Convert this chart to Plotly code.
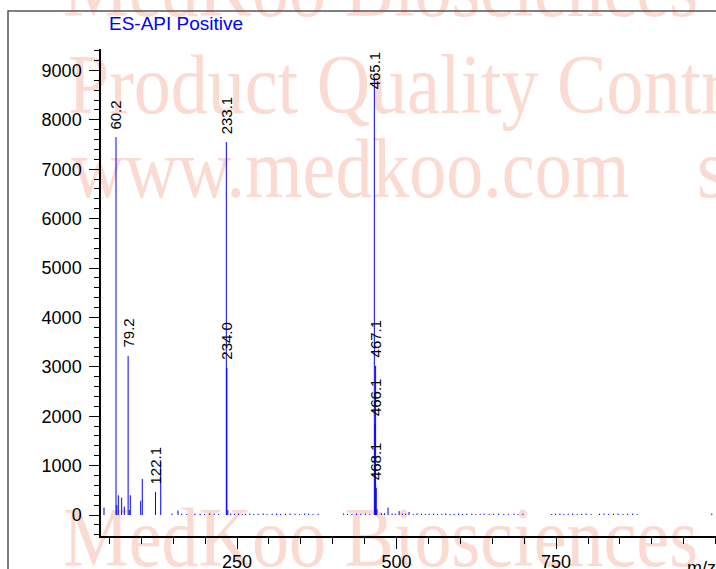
import json
import plotly.graph_objects as go

# ---------------- data ----------------
peak_mz = [41.4, 60.2, 61.5, 63.8, 69.1, 73.2, 79.2, 81.0, 82.6, 98.9, 101.4,
           122.1, 130.3, 157.4, 233.1, 234.0, 235.5, 465.1, 466.1, 467.1, 468.1,
           469.2, 486.6, 504.0, 519.5, 994.0]
peak_int = [150, 7650, 200, 400, 350, 170, 3220, 100, 400, 290, 730,
            465, 1070, 90, 7550, 2980, 100, 8850, 1840, 3020, 550,
            120, 150, 80, 60, 30]

noise_mz = [148, 163, 171, 184, 192, 199, 207, 214, 221, 240, 246, 252, 258, 263,
            270, 276, 283, 291, 297, 305, 312, 318, 326, 333, 341, 348, 356, 362,
            369, 377, 417, 423, 430, 437, 444, 451, 458, 476, 481, 493, 498, 509,
            514, 526, 532, 539, 545, 551, 558, 564, 571, 577, 584, 590, 597, 603,
            610, 618, 624, 631, 637, 645, 652, 660, 668, 675, 684, 690, 698, 743,
            749, 756, 762, 769, 776, 783, 790, 797, 805, 818, 825, 832, 840, 847,
            855, 862, 870, 877]
noise_int = [30, 25, 20, 30, 25, 20, 35, 25, 20, 30, 25, 30, 20, 25,
             30, 20, 25, 30, 20, 25, 30, 20, 25, 30, 25, 20, 30, 25,
             20, 25, 30, 25, 20, 30, 25, 30, 20, 40, 35, 30, 25, 30,
             25, 20, 30, 25, 20, 25, 30, 20, 25, 30, 20, 25, 30, 20,
             25, 30, 20, 25, 30, 20, 25, 30, 20, 25, 30, 20, 25, 20,
             25, 30, 20, 25, 30, 20, 25, 30, 20, 25, 30, 20, 25, 30,
             20, 25, 30, 20]

label_mz = [60.2, 79.2, 122.1, 233.1, 234.0, 465.1, 466.1, 467.1, 468.1]

x_tickvals = [250, 500, 750]
y_tickvals = [0, 1000, 2000, 3000, 4000, 5000, 6000, 7000, 8000, 9000]

title_text = "ES-API Positive"
watermark_lines = ["MedKoo Biosciences", "Product Quality Control",
                   "www.medkoo.com", "s", "MedKoo Biosciences"]

# ---------------- layout geometry ----------------
W, H = 716, 569
ML, MR, MT, MB = 101, 0, 49, 33
X_RANGE = [36.7, 1000.6]
Y_RANGE = [-425, 9433]
PW, PH = W - ML - MR, H - MT - MB


def px_to_paper(px):
    return (px - ML) / PW


def py_to_paper(py):
    return 1 - (py - MT) / PH


BLUE = "#0000ff"
WM_COLOR = "#fbdbd1"
WM_SIZE = 74
WM_STRETCH_Y = 1.15

fig = go.Figure()

# watermark as labels of invisible shapes placed below the traces
wm_left = [63, 68, 71, 697, 63]
wm_base = [16, 113, 197, 197, 566]
for txt, left, base in zip(watermark_lines, wm_left, wm_base):
    cy = base - 0.34 * WM_SIZE
    fig.add_shape(type="rect", xref="paper", yref="paper", layer="below",
                  x0=px_to_paper(left), x1=px_to_paper(left + 900),
                  y0=py_to_paper(cy + 40), y1=py_to_paper(cy - 40),
                  line=dict(width=0), fillcolor="rgba(0,0,0,0)",
                  label=dict(text=txt, textposition="middle left", padding=0,
                             font=dict(family="Liberation Serif", size=WM_SIZE,
                                       color=WM_COLOR)))

# stick spectrum
all_mz = peak_mz + noise_mz
all_int = peak_int + noise_int
xs, ys = [], []
for m, v in zip(all_mz, all_int):
    xs += [m, m, None]
    ys += [0, v, None]
fig.add_trace(go.Scatter(x=xs, y=ys, mode="lines",
                         line=dict(color=BLUE, width=1),
                         hoverinfo="skip", showlegend=False))

# peak labels
lab_font = dict(family="Liberation Sans, Arial", size=15, color="black")
label_len = 40 / PH * (Y_RANGE[1] - Y_RANGE[0])
gap = 6 / PH * (Y_RANGE[1] - Y_RANGE[0])
for m in label_mz:
    v = peak_int[peak_mz.index(m)]
    if v + gap + label_len > Y_RANGE[1]:
        fig.add_annotation(x=m, y=Y_RANGE[1], xref="x", yref="y",
                           text=f"{m:.1f}", textangle=-90, showarrow=False,
                           xanchor="center", yanchor="top", font=lab_font)
    else:
        fig.add_annotation(x=m, y=v, xref="x", yref="y", yshift=6,
                           text=f"{m:.1f}", textangle=-90, showarrow=False,
                           xanchor="center", yanchor="bottom", font=lab_font)

# title and axis label
fig.add_annotation(x=px_to_paper(107), y=py_to_paper(24), xref="paper", yref="paper",
                   text=title_text, showarrow=False, xanchor="left", yanchor="middle",
                   font=dict(family="Liberation Sans, Arial", size=19, color=BLUE))
fig.add_annotation(x=px_to_paper(685), y=py_to_paper(568), xref="paper", yref="paper",
                   text="m/z", showarrow=False, xanchor="left", yanchor="middle",
                   font=dict(family="Liberation Sans, Arial", size=18, color="black"))

# outer frame
fig.add_shape(type="rect", xref="paper", yref="paper",
              x0=px_to_paper(8), x1=px_to_paper(820),
              y0=py_to_paper(700), y1=py_to_paper(11),
              line=dict(color="#555555", width=1.5), fillcolor="rgba(0,0,0,0)")

axis_font = dict(family="Liberation Sans, Arial", size=18, color="black")
fig.update_layout(
    width=W, height=H,
    margin=dict(l=ML, r=MR, t=MT, b=MB, autoexpand=False),
    paper_bgcolor="white", plot_bgcolor="rgba(0,0,0,0)",
    showlegend=False,
    xaxis=dict(range=X_RANGE, showgrid=False, zeroline=False, automargin=False,
               showline=True, linecolor="black", linewidth=1.5,
               ticks="outside", ticklen=11, tickwidth=1.2, tickcolor="black",
               tickvals=x_tickvals, ticktext=[str(v) for v in x_tickvals],
               tickfont=axis_font, ticklabelstandoff=-2,
               minor=dict(dtick=50, tick0=0, ticks="outside", ticklen=6,
                          tickwidth=1.2, tickcolor="black")),
    yaxis=dict(range=Y_RANGE, showgrid=False, zeroline=False, automargin=False,
               showline=True, linecolor="black", linewidth=1.5,
               ticks="outside", ticklen=10, tickwidth=1.2, tickcolor="black",
               tickvals=y_tickvals, ticktext=[str(v) for v in y_tickvals],
               tickfont=axis_font, ticklabelstandoff=4,
               minor=dict(dtick=200, tick0=0, ticks="outside", ticklen=5,
                          tickwidth=1.2, tickcolor="black")),
)

# post-render: remove page margin and give the watermark its taller, serif look
wm_specs = [dict(text=t, left=l, base=b)
            for t, l, b in zip(watermark_lines, wm_left, wm_base)]
js = """
document.body.style.margin='0';
document.body.style.overflow='hidden';
(function(){
  var gd = document.getElementById('{plot_id}');
  var specs = __SPECS__;
  var sy = __SY__;
  var used = [];
  var texts = Array.prototype.slice.call(gd.querySelectorAll('text'));
  specs.forEach(function(s){
    var best = null, bestD = 1e9;
    texts.forEach(function(t){
      if (used.indexOf(t) >= 0) return;
      if (t.textContent !== s.text) return;
      var r = t.getBoundingClientRect();
      var d = Math.abs((r.top + r.bottom) / 2 - s.base);
      if (d < bestD) { bestD = d; best = t; }
    });
    if (!best) return;
    used.push(best);
    best.removeAttribute('transform');
    var bb = best.getBBox();
    var r = best.getBoundingClientRect();
    var offX = r.left - bb.x, offY = r.top - bb.y;
    var baseLocal = bb.y + bb.height * 0.891 / 1.107;
    var tx = s.left - offX, ty = s.base - offY;
    best.setAttribute('transform',
      'translate(' + tx + ',' + ty + ') scale(1,' + sy + ') translate(' +
      (-bb.x) + ',' + (-baseLocal) + ')');
  });
})();
"""
js = js.replace("__SPECS__", json.dumps(wm_specs)).replace("__SY__", str(WM_STRETCH_Y))

fig.write_html("out.html", post_script=js, config={"displayModeBar": False})
